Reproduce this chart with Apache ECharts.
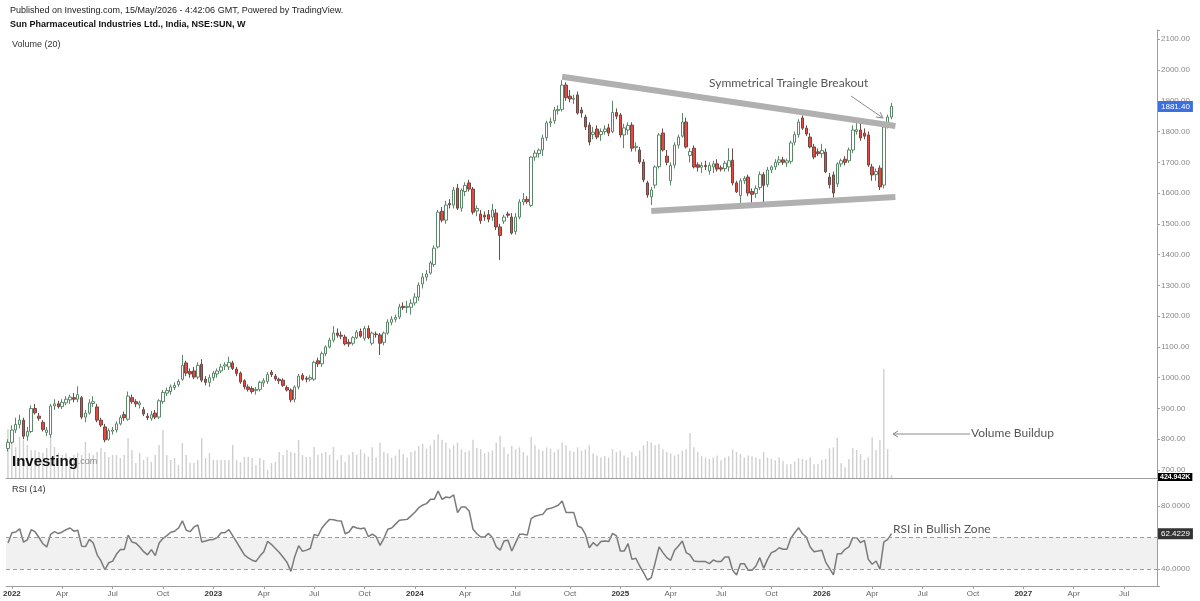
<!DOCTYPE html>
<html><head><meta charset="utf-8">
<script src="https://cdn.jsdelivr.net/npm/echarts@6/dist/echarts.min.js"></script>
<style>html,body{margin:0;padding:0;background:#fff}#c{width:1200px;height:601px}</style>
</head><body><div id="c"></div>
<script>
// ---- data ----
const startWeek = '2021-12-27';
const totalWeeks = 297;
// weekly candles [open, high, low, close]
const ohlc = [
[770,800,760,790],[790,845,785,830],[830,870,820,848],[848,880,835,862],[862,870,800,810],
[810,840,795,825],[825,910,820,900],[900,915,880,886],[875,885,860,868],[855,862,825,832],
[822,840,810,830],[815,915,805,908],[908,930,895,915],[915,925,900,906],[906,930,898,920],
[918,940,910,930],[928,945,915,937],[935,950,920,930],[930,972,920,945],[935,940,865,872],
[872,895,855,885],[885,930,880,918],[916,940,905,922],[905,915,855,862],[862,870,840,846],
[840,850,790,798],[800,835,795,828],[826,840,815,830],[830,858,822,850],[850,878,845,870],
[880,890,860,870],[865,955,860,940],[935,945,915,922],[922,930,905,915],[912,925,900,918],
[896,905,875,882],[875,885,862,870],[868,892,860,880],[885,895,865,872],[872,930,865,925],
[922,960,915,952],[950,968,940,958],[955,978,945,970],[968,985,960,975],[978,995,970,988],
[995,1074,990,1040],[1048,1055,1005,1015],[1020,1030,1000,1012],[1022,1035,995,1002],[1002,1050,995,1040],
[1044,1060,985,992],[995,1005,975,985],[985,1010,970,1000],[1000,1022,990,1015],[1012,1030,1000,1022],
[1022,1045,1015,1035],[1038,1050,1025,1042],[1035,1068,1025,1050],[1048,1055,1025,1030],[1028,1035,1005,1014],
[1015,1020,980,986],[990,995,962,970],[970,978,955,962],[965,972,948,955],[958,970,945,962],
[962,990,955,985],[983,998,970,990],[988,1018,980,1010],[1018,1025,1002,1010],[1005,1012,990,996],
[995,1000,980,990],[992,998,970,975],[968,975,955,960],[960,965,920,928],[930,975,920,970],
[970,1012,962,1005],[1008,1015,990,995],[998,1005,985,995],[995,1008,988,1000],[995,1055,990,1050],
[1055,1065,1035,1045],[1045,1085,1035,1078],[1078,1105,1070,1100],[1100,1130,1095,1122],[1122,1168,1115,1145],
[1145,1160,1130,1138],[1138,1150,1125,1135],[1132,1140,1105,1110],[1115,1125,1100,1110],[1112,1135,1105,1130],
[1130,1155,1125,1148],[1150,1160,1130,1135],[1128,1168,1120,1160],[1160,1170,1125,1130],[1112,1150,1105,1145],
[1142,1150,1130,1140],[1139,1145,1074,1112],[1115,1150,1105,1145],[1145,1190,1140,1181],[1180,1200,1170,1190],
[1190,1205,1180,1196],[1197,1240,1190,1230],[1232,1245,1220,1228],[1228,1250,1210,1232],[1229,1255,1205,1242],
[1243,1275,1235,1262],[1262,1310,1250,1301],[1305,1340,1290,1327],[1327,1350,1315,1337],[1340,1380,1335,1373],
[1368,1430,1360,1421],[1425,1545,1420,1538],[1541,1555,1505,1512],[1512,1575,1500,1561],[1566,1580,1550,1562],
[1561,1620,1550,1610],[1616,1630,1545,1551],[1551,1615,1540,1610],[1605,1635,1590,1625],[1633,1643,1605,1613],
[1613,1620,1530,1538],[1542,1560,1525,1550],[1532,1545,1500,1510],[1528,1540,1510,1522],[1530,1545,1505,1515],
[1522,1565,1510,1545],[1535,1548,1480,1490],[1490,1500,1382,1462],[1509,1530,1500,1522],[1532,1540,1520,1528],
[1522,1535,1465,1470],[1475,1535,1465,1522],[1522,1580,1515,1571],[1571,1600,1560,1580],[1580,1590,1565,1572],
[1560,1720,1555,1717],[1717,1740,1705,1730],[1728,1745,1715,1740],[1740,1790,1720,1779],[1780,1835,1770,1828],
[1828,1845,1815,1832],[1835,1880,1825,1870],[1868,1885,1855,1872],[1872,1967,1865,1951],[1951,1960,1900,1910],
[1915,1935,1895,1906],[1905,1920,1890,1908],[1919,1930,1855,1860],[1870,1880,1845,1860],[1847,1855,1805,1815],
[1821,1830,1755,1766],[1790,1815,1775,1798],[1808,1820,1775,1782],[1790,1810,1770,1800],[1800,1820,1790,1808],
[1812,1825,1785,1795],[1800,1900,1795,1862],[1862,1875,1840,1850],[1854,1860,1780,1789],[1789,1825,1746,1812],
[1805,1830,1790,1820],[1821,1830,1735,1746],[1748,1765,1735,1752],[1740,1750,1695,1701],[1701,1710,1635,1643],
[1633,1640,1585,1594],[1588,1620,1561,1610],[1626,1690,1615,1685],[1686,1795,1680,1789],[1795,1810,1735,1740],
[1720,1740,1690,1700],[1640,1700,1625,1690],[1691,1765,1680,1756],[1756,1790,1745,1782],[1785,1860,1780,1831],
[1831,1845,1745,1750],[1722,1745,1700,1735],[1746,1755,1680,1685],[1692,1700,1670,1684],[1684,1700,1665,1690],
[1690,1705,1675,1686],[1672,1700,1660,1690],[1685,1705,1665,1695],[1695,1710,1670,1678],[1682,1690,1670,1678],
[1680,1705,1670,1697],[1685,1746,1670,1705],[1707,1745,1625,1633],[1633,1640,1600,1604],[1592,1648,1565,1640],
[1640,1655,1630,1648],[1652,1660,1590,1600],[1605,1615,1565,1596],[1598,1625,1585,1615],[1618,1670,1610,1660],
[1660,1668,1555,1625],[1628,1685,1620,1675],[1675,1690,1665,1685],[1685,1710,1675,1700],[1700,1720,1690,1708],
[1708,1718,1692,1700],[1698,1712,1685,1705],[1703,1770,1695,1763],[1765,1800,1755,1790],[1790,1840,1780,1831],
[1844,1852,1805,1811],[1811,1820,1785,1792],[1782,1795,1745,1750],[1750,1760,1710,1717],[1734,1745,1720,1728],
[1728,1760,1715,1738],[1733,1745,1665,1669],[1652,1665,1615,1627],[1659,1670,1585,1600],[1630,1700,1620,1695],
[1695,1712,1685,1705],[1710,1720,1690,1700],[1705,1748,1698,1740],[1740,1820,1730,1805],[1800,1840,1790,1806],
[1805,1830,1770,1779],[1795,1810,1775,1785],[1789,1800,1685,1691],[1685,1695,1640,1659],[1660,1680,1640,1670],
[1681,1690,1610,1620],[1626,1820,1615,1815],[1826,1855,1810,1847],[1847,1893,1840,1881.4]
];
// weekly volume (thousands)
const volume = [
714,557,455,601,557,484,410,410,381,366,440,601,455,366,337,366,308,337,366,337,
528,366,337,381,440,381,308,337,337,293,337,586,410,220,366,264,308,235,337,484,
704,337,264,293,191,513,337,220,220,264,586,293,366,264,264,264,264,264,484,264,
235,308,308,293,191,293,264,117,220,235,381,337,410,381,366,557,337,308,308,455,
337,366,381,337,455,264,337,235,337,
380,340,420,360,310,450,300,520,380,360,300,
330,420,350,300,380,400,470,500,430,480,560,
640,560,520,430,480,520,420,380,400,560,440,
420,360,380,400,520,620,450,350,470,420,450,
380,330,600,480,420,400,450,430,380,420,520,
480,400,380,450,400,420,480,360,330,300,320,
300,420,380,400,330,300,380,320,400,480,540,
520,480,500,420,380,360,330,350,400,420,660,
450,380,320,300,280,300,330,260,300,320,420,
380,350,300,330,320,300,280,380,300,280,260,300,
250,200,205,240,290,280,265,305,200,205,265,280,435,450,590,215,157,280,435,410,
348,265,305,597,410,557,1600,425,40
];
// RSI(14)
const rsi = [
56.5,63,63.5,65.5,57,58.5,65,63.5,60,56,
54,62,63.7,62.5,63.5,65,66,64,64.6,54.5,
54.2,58.8,56.5,49,45.1,39.5,44,45,49.5,52.3,
52.3,61.5,57.1,56.4,54,51,49,52.3,48.5,56.5,
59.5,61.2,63.3,64,66,70.6,64.6,63.7,66.7,67.9,
57.2,57.8,58.6,58.8,60,63,63,65,61,57,
53,49,47,45.6,44.8,48.2,51,57.6,55.5,53,
50.5,47.5,44.2,38.5,48,54.8,51.2,52,53,62,
61,66,69,71.5,71.2,70.6,70.5,62.4,63.5,67,
66,65.5,66,60.5,62.2,60.5,55,59.5,65.2,66,
68.5,71,71.2,71.5,73.7,76,78.9,80.6,81.5,84.2,
84.2,89.5,84.2,85.7,85.3,87,75.8,79.4,79.4,76.8,
65.2,62.4,60.3,60.3,62.6,60,54,52,57.8,58.2,
51.4,56.7,62,62,61.5,72,73.5,74.2,74.7,77.9,
78.5,79.4,80.5,83.2,75.8,75.8,75.8,67.3,66.2,62,
53.5,56.7,54.6,57.4,57.8,57.4,62.6,61,51.4,51.4,
56.1,46.1,46.8,41.9,37.7,33,34.5,44,54,50.4,
47.2,45.5,51.9,54.6,57.8,50.4,48.9,45.1,44.7,44.7,
44.7,43.4,45.7,44.7,44.7,47.6,47.6,39.2,36.2,43.4,
43.4,39.2,39.2,41.9,47.2,40.4,46.1,50.4,51.4,53.5,
52.5,52.5,59.5,63,66.2,62.4,60.3,54,51,51.4,
51.9,44.4,40.4,36.2,49.7,49.7,52.5,54,59.9,59.9,
56.7,58.2,46.1,43,45.1,39.8,57.1,58.8,62.4229
];
// triangle trend lines: [startIndex, startPrice, endIndex, endPrice]
const trendLines = [[143,1978,229,1818],[166,1542,229,1587]];
const lastPrice = 1881.40, lastRsi = 62.4229, lastVolLabel = '424.942K';
const rsiBands = [40, 60];
const monthNames = ['Jan','Feb','Mar','Apr','May','Jun','Jul','Aug','Sep','Oct','Nov','Dec'];

// ---- build ----
const weeks = [];
(function(){ const t0 = Date.parse(startWeek + 'T00:00:00Z'); for (let i=0;i<totalWeeks;i++){ weeks.push(new Date(t0 + i*7*864e5).toISOString().slice(0,10)); } })();
function qLabel(i){
  if (i <= 0) return null;
  const m = +weeks[i].slice(5,7)-1, pm = +weeks[i-1].slice(5,7)-1;
  if (m !== pm && m % 3 === 0) return m === 0 ? '{y|' + weeks[i].slice(0,4) + '}' : '{m|' + monthNames[m] + '}';
  return null;
}
const candleData = ohlc.map(r => [r[0], r[3], r[2], r[1]]);
const FONT = '"Liberation Sans", Arial, sans-serif';
const L = 6, R = 43;
const HIDDEN = 'rgba(0,0,0,0)';

const chart = echarts.init(document.getElementById('c'));
chart.setOption({
  animation: false,
  backgroundColor: '#ffffff',
  grid: [
    {left: L, right: R, top: 30, height: 448},
    {left: L, right: R, top: 30, height: 448},
    {left: L, right: R, top: 480, height: 106}
  ],
  xAxis: [
    {type:'category', gridIndex:0, data: weeks, show:false, boundaryGap:true},
    {type:'category', gridIndex:1, data: weeks, boundaryGap:true,
     axisLine:{show:true, lineStyle:{color:'#9e9e9e', width:1}}, axisTick:{show:false}, axisLabel:{show:false}},
    {type:'category', gridIndex:2, data: weeks, boundaryGap:true,
     axisLine:{show:true, lineStyle:{color:'#9e9e9e', width:1}},
     axisTick:{show:true, alignWithLabel:true, length:3, interval:(i)=>qLabel(i)!==null, lineStyle:{color:'#9e9e9e'}},
     axisLabel:{interval:(i)=>qLabel(i)!==null, formatter:(v,i)=>qLabel(i)||'', margin:4,
       rich:{y:{fontSize:8, fontWeight:'bold', color:'#333', fontFamily:FONT}, m:{fontSize:8, color:'#666', fontFamily:FONT}}}}
  ],
  yAxis: [
    {type:'value', gridIndex:0, position:'right', min:674, max:2130, splitNumber:14, scale:true,
     axisLine:{show:true, lineStyle:{color:'#9e9e9e', width:1}},
     axisTick:{show:true, length:3, lineStyle:{color:'#9e9e9e'}},
     splitLine:{show:false},
     axisLabel:{fontSize:8, color:'#888', fontFamily:FONT, margin:4, formatter:v => (Math.abs(v % 100) < 1e-6 ? v.toFixed(2) : '')}},
    {type:'value', gridIndex:1, min:0, max:6566, show:false},
    {type:'value', gridIndex:2, position:'right', min:29.2, max:96.5, splitNumber:3,
     axisLine:{show:true, lineStyle:{color:'#9e9e9e', width:1}},
     axisTick:{show:true, length:3, lineStyle:{color:'#9e9e9e'}},
     splitLine:{show:false},
     axisLabel:{fontSize:8, color:'#888', fontFamily:FONT, margin:4, formatter:v => ((Math.abs(v-40)<1e-6 || Math.abs(v-80)<1e-6) ? v.toFixed(4) : '')}}
  ],
  series: [
    {type:'bar', name:'Volume', xAxisIndex:1, yAxisIndex:1, data: volume, barWidth:1.4, z:1,
     itemStyle:{color:'#cfcfcf'}, silent:true},
    {type:'candlestick', name:'Price', xAxisIndex:0, yAxisIndex:0, data: candleData, barWidth:3, z:3,
     itemStyle:{color:'#ffffff', color0:'#e8473d', borderColor:'#5b8868', borderColor0:'#6e4a46', borderWidth:1},
     markLine:{symbol:['none','none'], silent:true, animation:false, clip:false,
       data: trendLines.map(t => [
         {coord:[t[0], t[1]], lineStyle:{color:'#b0b0b0', width:6, type:'solid', cap:'butt'}, label:{show:false}},
         {coord:[t[2], t[3]]}
       ]).concat([
         {yAxis:lastPrice, lineStyle:{color:HIDDEN, width:0}, label:{show:true, position:'end', distance:1, formatter: lastPrice.toFixed(2),
           backgroundColor:'#3c6fe0', color:'#fff', fontSize:8, fontFamily:FONT, padding:[2,3,1,3], opacity:1}}
       ])}},
    {type:'line', name:'RSI', xAxisIndex:2, yAxisIndex:2, data: rsi, symbol:'none', z:3,
     lineStyle:{color:'#7a7a7a', width:1.5},
     markArea:{silent:true, itemStyle:{color:'#f1f1f1'}, data:[[{yAxis:rsiBands[0]},{yAxis:rsiBands[1]}]]},
     markLine:{symbol:['none','none'], silent:true, animation:false, clip:false,
       data: rsiBands.map(b => ({yAxis:b, lineStyle:{color:'#9a9a9a', width:1, type:[4,3]}, label:{show:false}})).concat([
         {yAxis:lastRsi, lineStyle:{color:HIDDEN, width:0}, label:{show:true, position:'end', distance:1, formatter: String(lastRsi),
           backgroundColor:'#333333', color:'#fff', fontSize:8, fontFamily:FONT, padding:[2,3,1,3], opacity:1}}
       ])}}
  ],
  graphic: [
    {type:'text', left:10, top:6, style:{text:'Published on Investing.com, 15/May/2026 - 4:42:06 GMT, Powered by TradingView.', font:'9px '+FONT, fill:'#222'}},
    {type:'text', left:10, top:20, style:{text:'Sun Pharmaceutical Industries Ltd., India, NSE:SUN, W', font:'bold 9px '+FONT, fill:'#111'}},
    {type:'text', left:12, top:40, style:{text:'Volume (20)', font:'9px '+FONT, fill:'#333'}},
    {type:'text', left:12, top:485, style:{text:'RSI (14)', font:'9px '+FONT, fill:'#333'}},
    {type:'text', left:12, top:454, z:10, style:{text:'{a|Investing}{b|.com}', rich:{a:{font:'bold 15px '+FONT, fill:'#111'}, b:{font:'9px '+FONT, fill:'#888'}}}},
    {type:'text', left:709, top:77, style:{text:'Symmetrical Traingle Breakout', font:'12px Lato, sans-serif', fill:'#555'}},
    {type:'line', shape:{x1:851, y1:96, x2:883, y2:118}, style:{stroke:'#8a8a8a', lineWidth:1}},
    {type:'polyline', shape:{points:[[876,117],[883,118],[880,112]]}, style:{stroke:'#8a8a8a', lineWidth:1, fill:null}},
    {type:'text', left:971, top:427, style:{text:'Volume Buildup', font:'12px Lato, sans-serif', fill:'#555'}},
    {type:'line', shape:{x1:893, y1:434, x2:970, y2:434}, style:{stroke:'#8a8a8a', lineWidth:1}},
    {type:'polyline', shape:{points:[[898,431],[893,434],[898,437]]}, style:{stroke:'#8a8a8a', lineWidth:1, fill:null}},
    {type:'text', left:893, top:523, style:{text:'RSI in Bullish Zone', font:'12px Lato, sans-serif', fill:'#555'}},
    {type:'text', left:1158, top:473, z:10, style:{text:lastVolLabel, font:'bold 7px '+FONT, fill:'#fff', backgroundColor:'#000', padding:[1,2,0,2]}}
  ]
});
</script></body></html>
